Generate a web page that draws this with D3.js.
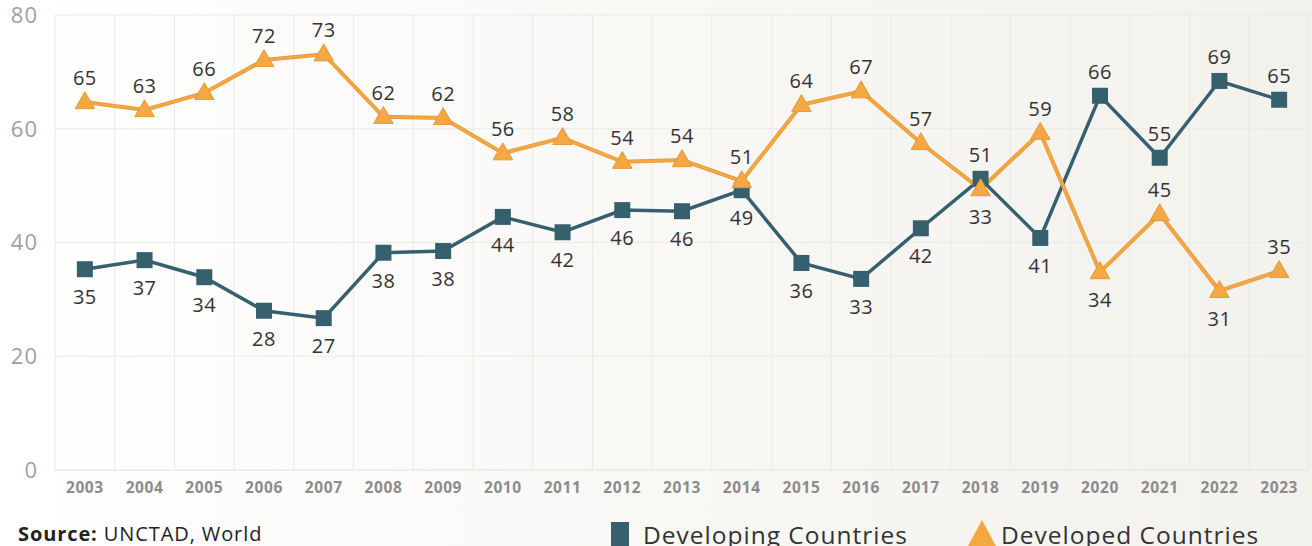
<!DOCTYPE html>
<html>
<head>
<meta charset="utf-8">
<script src="https://cdn.jsdelivr.net/npm/d3@7"></script>
<style>
  body { margin: 0; padding: 0; overflow: hidden; }
  svg { display: block; }
</style>
</head>
<body>
<div id="chart"></div>
<script>
var years = ["2003","2004","2005","2006","2007","2008","2009","2010","2011","2012","2013",
             "2014","2015","2016","2017","2018","2019","2020","2021","2022","2023"];

var developing = [35.3,36.9,33.9,28.0,26.7,38.2,38.5,44.5,41.8,45.7,45.5,
                  49.2,36.4,33.6,42.5,51.2,40.8,65.8,54.9,68.4,65.1];
var developed = [64.7,63.3,66.3,72.1,73.1,62.1,61.9,55.7,58.4,54.2,54.5,
                 50.8,64.2,66.6,57.5,49.4,59.3,34.8,45.0,31.5,35.0];

// data labels as printed on the original
var developingLabels = ["35","37","34","28","27","38","38","44","42","46","46",
                        "49","36","33","42","51","41","66","55","69","65"];
var developedLabels = ["65","63","66","72","73","62","62","56","58","54","54",
                       "51","64","67","57","33","59","34","45","31","35"];
// 1 = label above the point
var developingAbove = [0,0,0,0,0,0,0,0,0,0,0,0,0,0,0,1,0,1,1,1,1];
var developedAbove  = [1,1,1,1,1,1,1,1,1,1,1,1,1,1,1,0,1,0,1,0,1];

var yTicks = [0, 20, 40, 60, 80];

var width = 1312;
var height = 546;
var fontFam = "'Open Sans', 'DejaVu Sans', sans-serif";

var svg = d3.select("#chart")
    .append("svg")
    .attr("width", width)
    .attr("height", height);

var defs = svg.append("defs");
var grad = defs.append("linearGradient")
    .attr("id", "bg")
    .attr("x1", "0%").attr("x2", "100%")
    .attr("y1", "0%").attr("y2", "0%");
grad.append("stop").attr("offset", "0%").attr("stop-color", "#ffffff");
grad.append("stop").attr("offset", "100%").attr("stop-color", "#f3f1ec");

svg.append("rect")
    .attr("width", width)
    .attr("height", height)
    .attr("fill", "url(#bg)");

var xScale = d3.scaleBand()
    .domain(years)
    .range([55, 1309])
    .padding(0);

var yScale = d3.scaleLinear()
    .domain([0, 80])
    .range([470, 15]);

function cx(i) { return xScale(years[i]) + xScale.bandwidth() / 2; }

// grid
var grid = svg.append("g");
grid.selectAll("line.h")
    .data(yTicks)
    .enter()
    .append("line")
    .attr("x1", 55)
    .attr("x2", 1309)
    .attr("y1", function(d) { return yScale(d); })
    .attr("y2", function(d) { return yScale(d); })
    .attr("stroke", function(d) { return d === 0 ? "#e2e0dc" : "#ebe9e5"; })
    .attr("stroke-width", 1);

grid.selectAll("line.v")
    .data(years.concat(["end"]))
    .enter()
    .append("line")
    .attr("x1", function(d, i) { return 55 + i * xScale.bandwidth(); })
    .attr("x2", function(d, i) { return 55 + i * xScale.bandwidth(); })
    .attr("y1", yScale(80))
    .attr("y2", yScale(0))
    .attr("stroke", "#ebe9e5")
    .attr("stroke-width", 1);

// y axis labels
svg.selectAll("text.ytick")
    .data(yTicks)
    .enter()
    .append("text")
    .attr("class", "ytick")
    .attr("x", 38)
    .attr("y", function(d) { return yScale(d); })
    .attr("dy", "0.36em")
    .attr("text-anchor", "end")
    .attr("font-family", fontFam)
    .attr("font-size", 22)
    .attr("letter-spacing", 1)
    .attr("fill", "#a0a0a0")
    .text(function(d) { return d; });

// x axis labels
var bottomAxis = d3.axisBottom(xScale).tickSize(0).tickPadding(0);
var xAxis = svg.append("g")
    .attr("transform", "translate(0,482)")
    .call(bottomAxis);
xAxis.select(".domain").remove();
xAxis.selectAll("text")
    .attr("dy", "0.7em")
    .attr("font-family", fontFam)
    .attr("font-size", 15.5)
    .attr("font-weight", "bold")
    .attr("letter-spacing", 0.6)
    .attr("fill", "#8c8c8c");

var line = d3.line()
    .x(function(d, i) { return cx(i); })
    .y(function(d) { return yScale(d); });

var darkTeal = "#37606f";
var orange = "#f5a742";

// developing series
svg.append("path")
    .datum(developing)
    .attr("d", line)
    .attr("fill", "none")
    .attr("stroke", darkTeal)
    .attr("stroke-width", 3.5);

// developed series
svg.append("path")
    .datum(developed)
    .attr("d", line)
    .attr("fill", "none")
    .attr("stroke", "#e39a3a")
    .attr("stroke-width", 4);
svg.append("path")
    .datum(developed)
    .attr("d", line)
    .attr("fill", "none")
    .attr("stroke", orange)
    .attr("stroke-width", 2.5);

var sq = 16;
svg.selectAll("rect.dev")
    .data(developing)
    .enter()
    .append("rect")
    .attr("class", "dev")
    .attr("x", function(d, i) { return cx(i) - sq / 2; })
    .attr("y", function(d) { return yScale(d) - sq / 2; })
    .attr("width", sq)
    .attr("height", sq)
    .attr("fill", darkTeal);

var tri = d3.symbol().type(d3.symbolTriangle).size(165);
svg.selectAll("path.devd")
    .data(developed)
    .enter()
    .append("path")
    .attr("class", "devd")
    .attr("d", tri)
    .attr("transform", function(d, i) {
        return "translate(" + cx(i) + "," + (yScale(d) + 1) + ")";
    })
    .attr("fill", orange)
    .attr("stroke", "#e39a3a")
    .attr("stroke-width", 1);

// data labels
function addLabels(vals, labels, above) {
    svg.append("g")
        .selectAll("text")
        .data(vals)
        .enter()
        .append("text")
        .attr("x", function(d, i) { return cx(i); })
        .attr("y", function(d, i) {
            return yScale(d) + (above[i] ? -24 : 28);
        })
        .attr("dy", "0.36em")
        .attr("text-anchor", "middle")
        .attr("font-family", fontFam)
        .attr("font-size", 20)
        .attr("letter-spacing", 0.5)
        .attr("fill", "#333333")
        .text(function(d, i) { return labels[i]; });
}
addLabels(developed, developedLabels, developedAbove);
addLabels(developing, developingLabels, developingAbove);

// source
var src = svg.append("text")
    .attr("x", 18)
    .attr("y", 541)
    .attr("font-family", fontFam)
    .attr("font-size", 20)
    .attr("letter-spacing", 0.9)
    .attr("fill", "#222");
src.append("tspan").attr("font-weight", "bold").text("Source:");
src.append("tspan").text(" UNCTAD, World");

// legend
svg.append("rect")
    .attr("x", 611)
    .attr("y", 522)
    .attr("width", 18)
    .attr("height", 24)
    .attr("fill", darkTeal);
svg.append("text")
    .attr("x", 643)
    .attr("y", 544)
    .attr("font-family", fontFam)
    .attr("font-size", 24.5)
    .attr("letter-spacing", 1)
    .attr("fill", "#333")
    .text("Developing Countries");

svg.append("path")
    .attr("d", "M968,546 L982,520 L996,546 Z")
    .attr("fill", orange);
svg.append("text")
    .attr("x", 1001)
    .attr("y", 544)
    .attr("font-family", fontFam)
    .attr("font-size", 24.5)
    .attr("letter-spacing", 1)
    .attr("fill", "#333")
    .text("Developed Countries");
</script>
</body>
</html>
